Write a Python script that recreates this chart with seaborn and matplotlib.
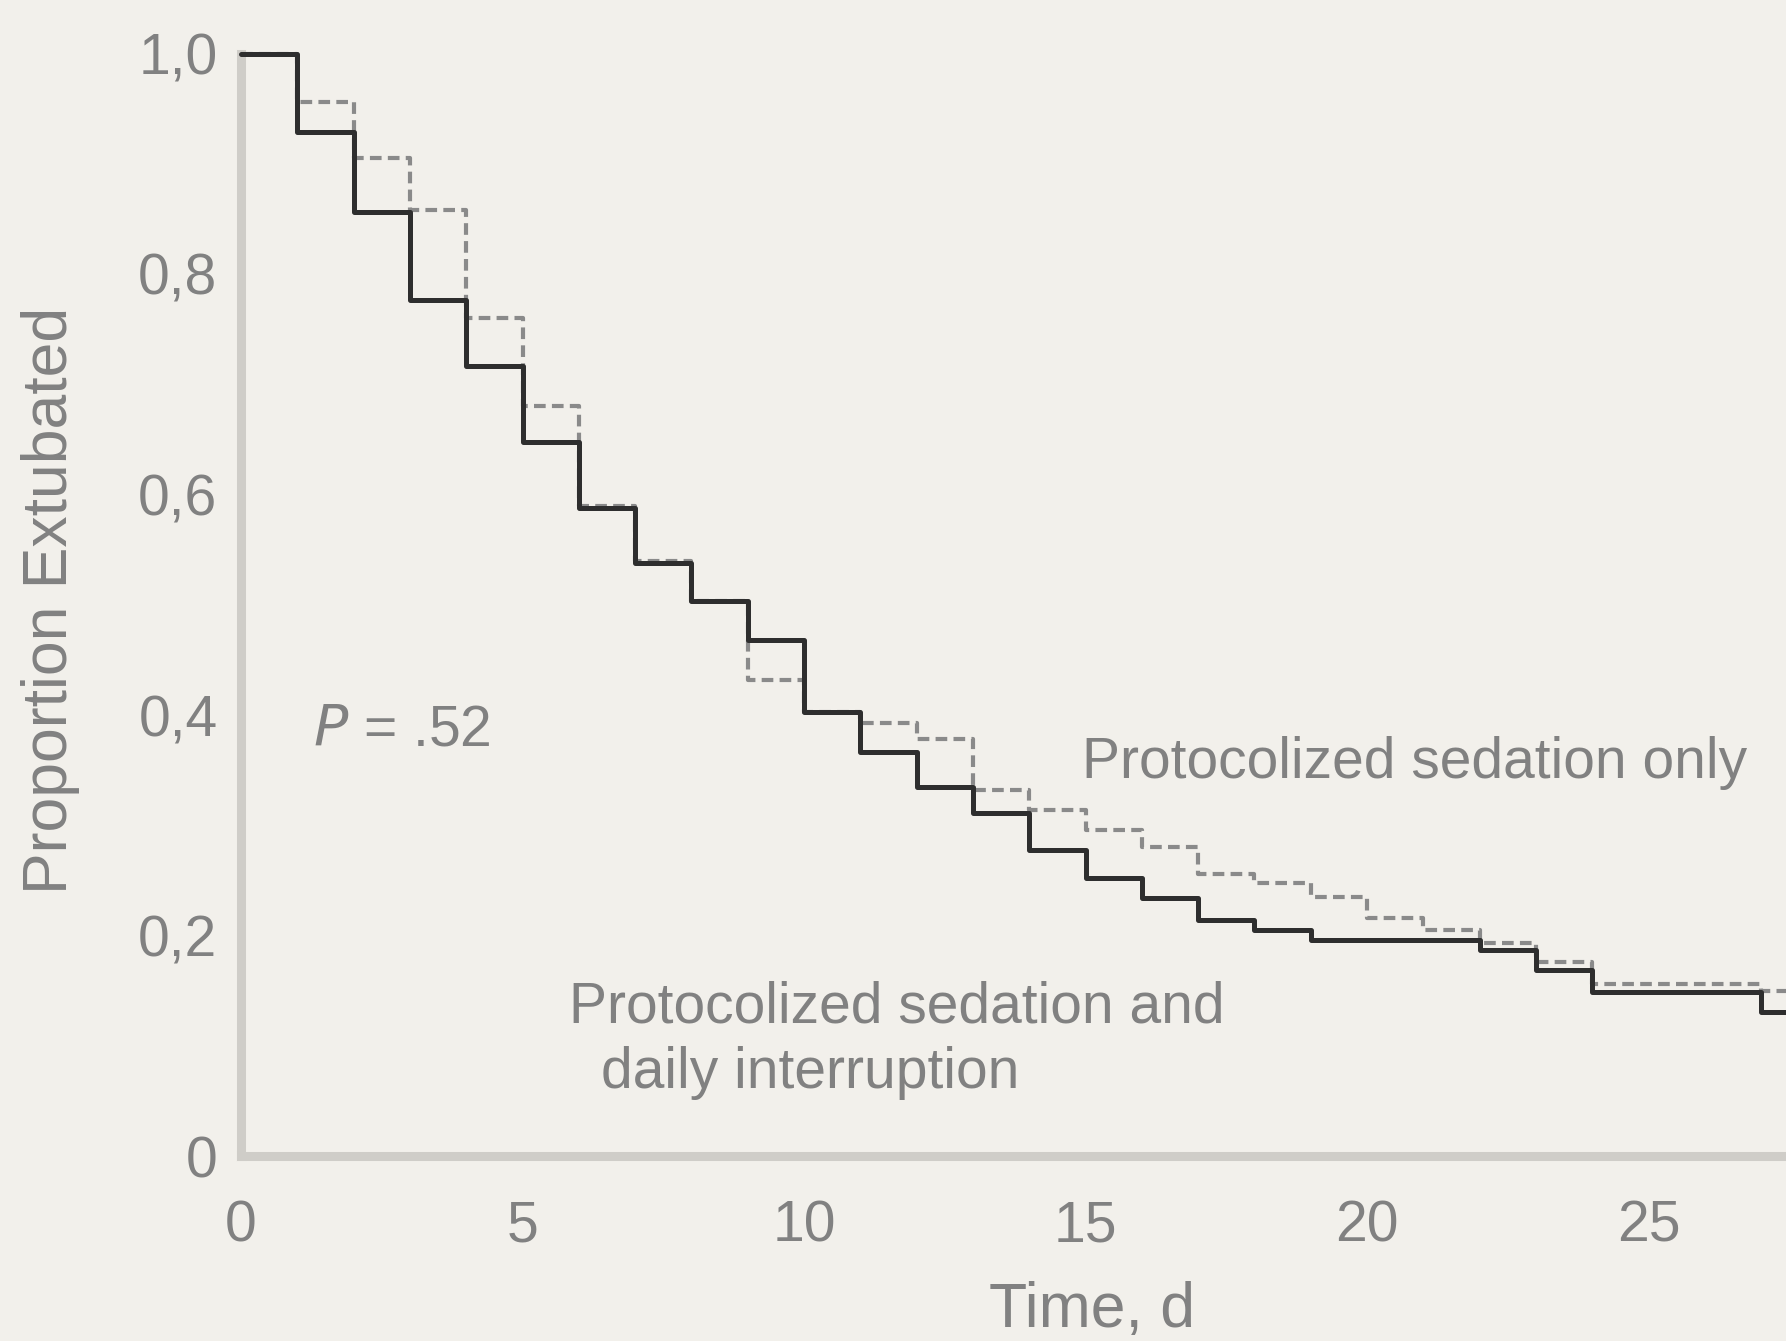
import matplotlib
matplotlib.use("Agg")
import matplotlib.pyplot as plt
import seaborn as sns
import pandas as pd

# Kaplan-Meier style curves: proportion still intubated at the start of each day
days = list(range(0, 29))
interruption = [1.000, 0.929, 0.856, 0.776, 0.717, 0.648, 0.588, 0.538, 0.503, 0.468,
                0.403, 0.366, 0.335, 0.311, 0.278, 0.252, 0.234, 0.214, 0.205, 0.196,
                0.196, 0.196, 0.187, 0.169, 0.149, 0.149, 0.149, 0.131, 0.131]
sedation_only = [1.000, 0.956, 0.905, 0.858, 0.760, 0.680, 0.590, 0.540, 0.503, 0.432,
                 0.403, 0.393, 0.378, 0.332, 0.314, 0.296, 0.280, 0.256, 0.248, 0.235,
                 0.216, 0.205, 0.193, 0.176, 0.156, 0.156, 0.156, 0.150, 0.150]

x_ticks = [0, 5, 10, 15, 20, 25]
y_ticks = [0, 0.2, 0.4, 0.6, 0.8, 1.0]
y_tick_labels = ["0", "0,2", "0,4", "0,6", "0,8", "1,0"]

df_int = pd.DataFrame({"day": days, "prop": interruption})
df_sed = pd.DataFrame({"day": days, "prop": sedation_only})

sns.set_style("white")
plt.rcParams["font.family"] = ["Liberation Sans", "DejaVu Sans"]

bg = "#f2f0eb"
text_col = "#818181"

fig = plt.figure(figsize=(17.86, 13.41), dpi=100, facecolor=bg)
ax = fig.add_axes([241 / 1786, 185 / 1341, 1 - 241 / 1786, (1156 - 53.5) / 1341])
ax.set_facecolor(bg)

sns.lineplot(data=df_sed, x="day", y="prop", ax=ax, color="#8a8a8a", linewidth=3.0,
             drawstyle="steps-post", estimator=None, zorder=3)
ax.lines[-1].set_dashes((2.8, 1.5))
sns.lineplot(data=df_int, x="day", y="prop", ax=ax, color="#2e2e2e", linewidth=3.6,
             drawstyle="steps-post", estimator=None, zorder=4)
for ln in ax.lines:
    ln.set_clip_on(False)

ax.set_xlim(0, (1786 - 241) / 56.3)
ax.set_ylim(0, 1.0)

for side in ["top", "right"]:
    ax.spines[side].set_visible(False)
for side in ["left", "bottom"]:
    ax.spines[side].set_color("#cfcdc8")
    ax.spines[side].set_linewidth(6.5)
    ax.spines[side].set_zorder(1)

ax.set_xticks(x_ticks)
ax.set_yticks(y_ticks)
ax.set_yticklabels(y_tick_labels)
ax.tick_params(axis="both", which="major", direction="out", length=7, width=1.5,
               color="#9a9a9a", labelcolor=text_col, labelsize=41)
ax.tick_params(axis="x", pad=24)
ax.tick_params(axis="y", pad=10)
ax.set_xlabel("")
ax.set_ylabel("")

ax.text(1.27, 0.372, r"$P$ = .52", fontsize=41, color=text_col, va="baseline", ha="left")
ax.text(14.94, 0.343, "Protocolized sedation only", fontsize=41, color=text_col,
        va="baseline", ha="left")
ax.text(5.83, 0.1215, "Protocolized sedation and", fontsize=41, color=text_col,
        va="baseline", ha="left")
ax.text(6.39, 0.062, "daily interruption", fontsize=41, color=text_col,
        va="baseline", ha="left")

fig.text(1092 / 1786, 1 - 1327 / 1341, "Time, d", fontsize=45, color=text_col,
         ha="center", va="baseline")
fig.text(51 / 1786, 1 - 600 / 1341, "Proportion Extubated", fontsize=45, color=text_col,
         ha="center", va="center", rotation=90)

fig.savefig("out.png", dpi=100, facecolor=bg)
